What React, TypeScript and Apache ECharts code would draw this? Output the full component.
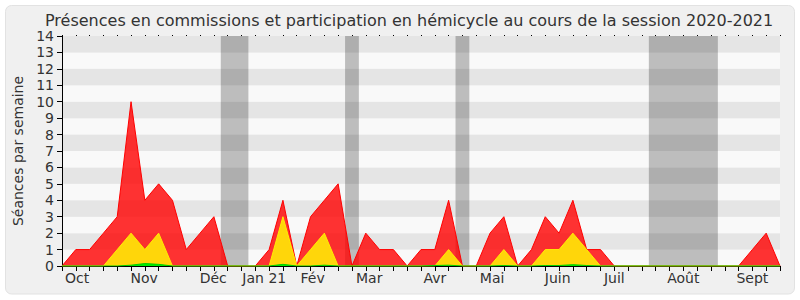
import React, { useEffect, useRef } from "react";
import * as echarts from "echarts";

const weeks: number[] = Array.from({ length: 53 }, (_, i) => i);
const presences: number[] = [
  0, 1, 1, 2, 3, 10, 4, 5, 4, 1, 2, 3, 0, 0, 0, 1, 4, 0, 3, 4, 5, 0, 2, 1, 1, 0,
  1, 1, 4, 0, 0, 2, 3, 0, 1, 3, 2, 4, 1, 1, 0, 0, 0, 0, 0, 0, 0, 0, 0, 0, 1, 2, 0,
];
const commissions: number[] = [
  0, 0, 0, 0, 1, 2, 1, 2, 0, 0, 0, 0, 0, 0, 0, 0, 3, 0, 1, 2, 0, 0, 0, 0, 0, 0,
  0, 0, 1, 0, 0, 0, 1, 0, 0, 1, 1, 2, 1, 0, 0, 0, 0, 0, 0, 0, 0, 0, 0, 0, 0, 0, 0,
];
const hemicycle: number[] = [
  0, 0, 0, 0, 0, 0.05, 0.15, 0.1, 0, 0, 0, 0, 0, 0, 0, 0, 0.1, 0, 0, 0.05, 0, 0, 0, 0, 0, 0,
  0, 0.03, 0.05, 0, 0, 0, 0.03, 0, 0, 0.03, 0.03, 0.08, 0.03, 0, 0, 0, 0, 0, 0, 0, 0, 0, 0, 0, 0, 0, 0,
];
const vacances: [number, number][] = [
  [11.5, 13.5],
  [20.5, 21.5],
  [28.5, 29.5],
  [42.5, 47.5],
];
const monthNames: string[] = ["Oct", "Nov", "Déc", "Jan 21", "Fév", "Mar", "Avr", "Mai", "Juin", "Juil", "Août", "Sept"];
const monthPos: number[] = [1.1, 5.95, 10.95, 14.65, 18.15, 22.25, 27, 31.15, 35.9, 40, 45, 50];
const yTicks: number[] = [0, 14];

const FONT = "DejaVu Sans";

export default function App() {
  const ref = useRef<HTMLDivElement>(null);
  useEffect(() => {
    if (!ref.current) return;
    const chart = echarts.init(ref.current, null, { renderer: "svg" });
    const pairs = (arr: number[]) => weeks.map((w, i) => [w, arr[i]]);
    chart.setOption({
      animation: false,
      backgroundColor: "#ffffff",
      textStyle: { fontFamily: FONT },
      graphic: [
        {
          type: "rect",
          z: -10,
          silent: true,
          shape: { x: 5.5, y: 5.5, width: 789, height: 288.5, r: 6 },
          style: { fill: "#f0f0f0", stroke: "#e2e2e2", lineWidth: 1 },
        },
      ],
      title: {
        text: "Présences en commissions et participation en hémicycle au cours de la session 2020-2021",
        left: 40,
        top: 6,
        textStyle: { fontFamily: FONT, fontSize: 16, fontWeight: "normal", color: "#333", lineHeight: 18 },
      },
      grid: { left: 62, right: 20, top: 36, bottom: 34 },
      xAxis: [
        {
          type: "value",
          min: 0,
          max: 52,
          interval: 1,
          axisLine: { show: true, lineStyle: { color: "#000", width: 1 } },
          axisTick: { show: true, length: 5, lineStyle: { color: "#000" } },
          splitLine: { show: false },
          axisLabel: {
            show: true,
            customValues: monthPos,
            margin: 5,
            fontFamily: FONT,
            fontSize: 14,
            color: "#333",
            formatter: (v: number) => {
              let best = 0;
              for (let k = 0; k < monthPos.length; k++) {
                if (Math.abs(monthPos[k] - v) < Math.abs(monthPos[best] - v)) best = k;
              }
              return monthNames[best];
            },
          },
        },
        {
          type: "value",
          position: "top",
          min: 0,
          max: 52,
          interval: 1,
          axisLine: { show: false },
          axisTick: { show: true, length: 1, lineStyle: { color: "#000" } },
          axisLabel: { show: false },
          splitLine: { show: false },
        },
      ],
      yAxis: {
        type: "value",
        min: yTicks[0],
        max: yTicks[1],
        interval: 1,
        name: "Séances par semaine",
        nameLocation: "middle",
        nameGap: 35,
        nameTextStyle: { fontFamily: FONT, fontSize: 14, color: "#333" },
        axisLine: { show: true, lineStyle: { color: "#000" } },
        axisTick: { show: true, length: 5, lineStyle: { color: "#000" } },
        axisLabel: { fontFamily: FONT, fontSize: 14, color: "#333", margin: 8, lineHeight: 14 },
        splitLine: { show: false },
        splitArea: { show: true, areaStyle: { color: ["#f9f9f9", "#e5e5e5"] } },
      },
      series: [
        {
          type: "line",
          data: pairs(presences),
          symbol: "none",
          lineStyle: { color: "#ff0000", width: 1 },
          areaStyle: { color: "rgba(255,0,0,0.8)", opacity: 1 },
          z: 2,
        },
        {
          type: "line",
          data: pairs(commissions),
          symbol: "none",
          lineStyle: { color: "#ffee00", width: 1 },
          areaStyle: { color: "#ffd60a", opacity: 1 },
          z: 3,
        },
        {
          type: "line",
          data: pairs(hemicycle),
          symbol: "none",
          lineStyle: { color: "#00cc00", width: 1 },
          areaStyle: { color: "#00ee00", opacity: 1 },
          z: 4,
        },
        {
          type: "line",
          data: [],
          z: 6,
          markArea: {
            silent: true,
            itemStyle: { color: "rgba(0,0,0,0.24)" },
            data: vacances.map(([a, b]) => [{ xAxis: a }, { xAxis: b }]),
          },
        },
      ],
    });
    return () => chart.dispose();
  }, []);
  return <div ref={ref} style={{ position: "fixed", left: 0, top: 0, width: 800, height: 300 }} />;
}
